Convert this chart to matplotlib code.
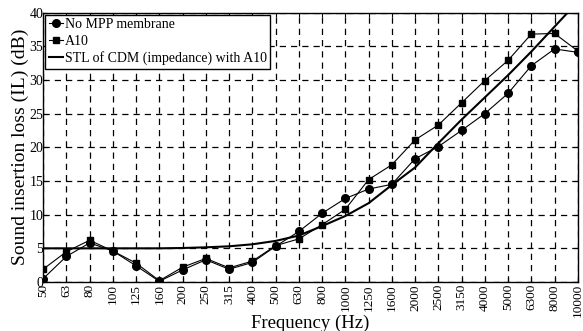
import numpy as np
import matplotlib
matplotlib.use('Agg')
import matplotlib.pyplot as plt
from matplotlib.legend_handler import HandlerLine2D

freqs = ['50', '63', '80', '100', '125', '160', '200', '250', '315', '400', '500', '630',
         '800', '1000', '1250', '1600', '2000', '2500', '3150', '4000', '5000', '6300',
         '8000', '10000']

no_mpp = [0.5, 3.8, 5.8, 4.6, 2.4, 0.1, 1.8, 3.3, 1.9, 2.9, 5.3, 7.5,
          10.2, 12.4, 13.8, 14.5, 18.3, 20.1, 22.5, 25.0, 28.0, 32.1, 34.6, 34.1]
a10 = [1.9, 4.5, 6.2, 4.6, 2.8, 0.2, 2.2, 3.5, 2.1, 3.1, 5.4, 6.4,
       8.5, 10.8, 15.2, 17.4, 21.1, 23.3, 26.6, 29.9, 32.9, 36.8, 36.9, 34.3]
stl_cdm = [5.0, 5.0, 5.0, 5.0, 5.0, 5.0, 5.05, 5.15, 5.3, 5.6, 6.1, 6.9,
           8.3, 9.8, 11.7, 14.4, 17.0, 20.6, 24.1, 27.4, 30.7, 34.2, 37.9, 41.6]


class MarkerLeft(HandlerLine2D):
    # legend marker sits at the left end of the short line
    def get_xdata(self, legend, xdescent, ydescent, width, height, fontsize):
        xdata = np.array([-xdescent, -xdescent + width])
        return xdata, np.array([-xdescent + 0.15 * width])


plt.rcParams['font.family'] = ['Liberation Serif', 'DejaVu Serif']

fig = plt.figure(figsize=(5.83, 3.31), dpi=100)
ax = fig.add_axes([0.074, 0.148, 0.917, 0.814])

x = np.arange(len(freqs))
l1, = ax.plot(x, no_mpp, '-o', color='black', lw=0.8, ms=5.5, label='No MPP membrane', zorder=4)
l2, = ax.plot(x, a10, '-s', color='black', lw=0.8, ms=5, label='A10', zorder=4)
l3, = ax.plot(x, stl_cdm, '-', color='black', lw=1.5, label='STL of CDM (impedance) with A10', zorder=3)

ax.set_xlim(0, len(freqs) - 1)
ax.set_ylim(0, 40)
ax.set_xticks(x)
ax.set_xticklabels(freqs, rotation=90, fontsize=9.5)
ax.set_yticks(np.arange(0, 41, 5))
ax.tick_params(axis='y', labelsize=10, pad=0)
ax.tick_params(axis='x', pad=1.5)
ax.tick_params(direction='in', top=True, right=True, length=3, width=0.8)
ax.grid(True, color='black', linestyle=(0, (5, 4)), lw=0.9)
for s in ax.spines.values():
    s.set_linewidth(1.0)

ax.set_xlabel('Frequency (Hz)', fontsize=13.5, labelpad=-2)
ax.set_ylabel('Sound insertion loss (IL) (dB)', fontsize=14, labelpad=0)

leg = ax.legend(handler_map={l1: MarkerLeft(numpoints=1), l2: MarkerLeft(numpoints=1)},
                loc='upper left', fontsize=10, handlelength=1.0, handletextpad=0.15,
                borderpad=0.25, labelspacing=0.25, borderaxespad=0.15, fancybox=False,
                framealpha=1, edgecolor='black')
leg.get_frame().set_linewidth(1.0)

fig.savefig('out.png', dpi=100)
